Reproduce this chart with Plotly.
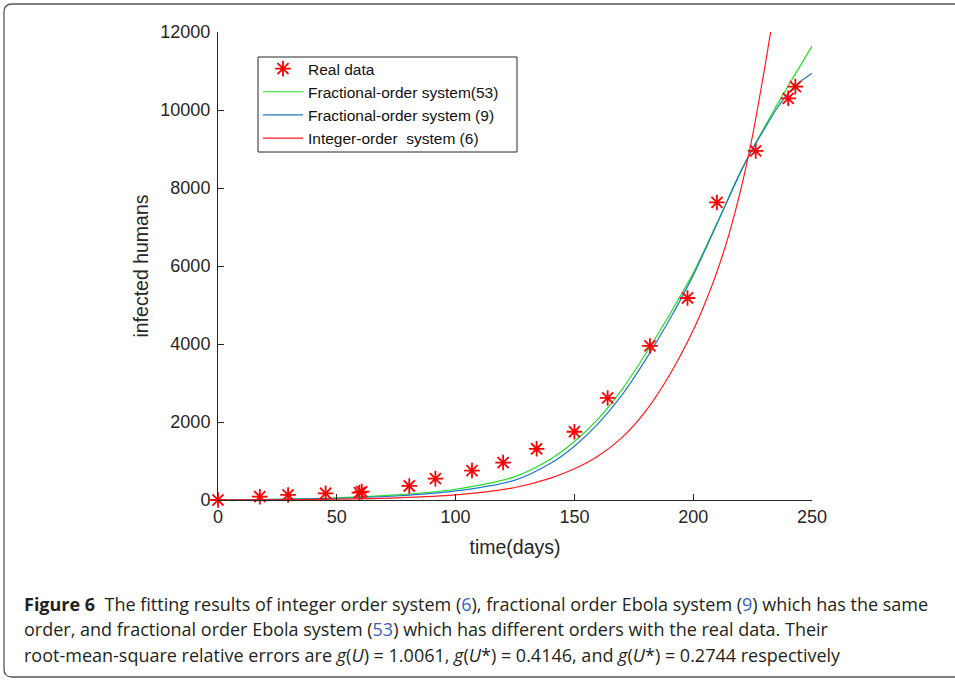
import plotly.graph_objects as go

# ---------------- data ----------------
real_days = [0, 17.6, 29.5, 45.3, 59.5, 60.5, 80.5, 91.5, 106.9, 120, 134.1, 150, 164, 181.8, 197.6, 210, 226.3, 240, 243]
real_cases = [0, 85, 129, 172, 190, 215, 360, 548, 755, 960, 1313, 1750, 2617, 3950, 5180, 7630, 8950, 10300, 10600]

frac53_days = [0, 25, 50, 75, 100, 125, 140, 150, 160, 170, 180, 190, 200, 210, 220, 225, 230, 235, 240, 245, 250]
frac53_cases = [0, 18, 55, 129, 275, 600, 1050, 1500, 2080, 2830, 3750, 4750, 5820, 7100, 8420, 9010, 9560, 10100, 10620, 11130, 11640]

frac9_days = [0, 25, 50, 75, 100, 125, 140, 150, 160, 170, 180, 190, 200, 210, 220, 225, 230, 235, 240, 245, 250]
frac9_cases = [0, 14, 45, 103, 232, 510, 940, 1380, 1960, 2690, 3600, 4620, 5760, 7080, 8420, 9000, 9520, 10020, 10430, 10720, 10940]

int6_days = [0, 25, 50, 75, 100, 125, 140, 150, 160, 170, 180, 190, 200, 205, 210, 215, 220, 225, 230, 233]
int6_cases = [0, 5, 20, 55, 130, 320, 560, 800, 1130, 1600, 2280, 3200, 4350, 5050, 5850, 6800, 7950, 9350, 11050, 12150]

x_ticks = [0, 50, 100, 150, 200, 250]
y_ticks = [0, 2000, 4000, 6000, 8000, 10000, 12000]

# ---------------- geometry helpers ----------------
W, H = 955, 681
L, R, T, B = 218, 812, 32, 500  # plot area in pixels

def px(xp):
    return (xp - L) / (R - L)

def py(yp):
    return (B - yp) / (B - T)

TXT = "#262626"
AX_FONT = "Liberation Sans, Arial, Helvetica, sans-serif"

fig = go.Figure()

fig.add_trace(go.Scatter(x=frac53_days, y=frac53_cases, mode="lines", name="Fractional-order system(53)",
                         line=dict(color="#22e022", width=1.2, shape="spline", smoothing=0.8), legendrank=2))
fig.add_trace(go.Scatter(x=frac9_days, y=frac9_cases, mode="lines", name="Fractional-order system (9)",
                         line=dict(color="#1f78c8", width=1.2, shape="spline", smoothing=0.8), legendrank=3))
fig.add_trace(go.Scatter(x=int6_days, y=int6_cases, mode="lines", name="Integer-order  system (6)",
                         line=dict(color="#ff1a1a", width=1.2, shape="spline", smoothing=0.8), legendrank=4))
fig.add_trace(go.Scatter(x=real_days, y=real_cases, mode="markers", name="Real data", cliponaxis=False,
                         marker=dict(symbol="asterisk-open", size=13, color="#ff0000",
                                     line=dict(color="#ff0000", width=1.8)), legendrank=1))

fig.update_layout(
    width=W, height=H,
    margin=dict(l=L, r=W - R, t=T, b=H - B),
    paper_bgcolor="white", plot_bgcolor="white",
    font=dict(family=AX_FONT, color=TXT),
    showlegend=True,
    legend=dict(x=px(258), y=py(52), xanchor="left", yanchor="top",
                bgcolor="rgba(0,0,0,0)", borderwidth=0,
                font=dict(size=15.5, color="#111111", family=AX_FONT),
                tracegroupgap=0, itemwidth=40),
    xaxis=dict(range=[0, 250], tickvals=x_ticks, ticktext=[str(v) for v in x_ticks],
               showgrid=False, zeroline=False, showline=True, linecolor=TXT, linewidth=1,
               ticks="inside", ticklen=6, tickcolor=TXT, tickfont=dict(size=18, color=TXT),
               title=dict(text="time(days)", font=dict(size=19.5, color=TXT), standoff=14)),
    yaxis=dict(range=[0, 12000], tickvals=y_ticks, ticktext=[str(v) for v in y_ticks],
               showgrid=False, zeroline=False, showline=True, linecolor=TXT, linewidth=1,
               ticks="inside", ticklen=6, tickcolor=TXT, tickfont=dict(size=18, color=TXT),
               ticklabelstandoff=3,
               title=dict(text="infected humans", font=dict(size=19.5, color=TXT), standoff=6)),
)

# legend box (drawn separately so entries sit where the reference has them)
fig.add_shape(type="rect", xref="paper", yref="paper",
              x0=px(258), x1=px(517), y0=py(152), y1=py(57),
              line=dict(color=TXT, width=1), fillcolor="white", layer="below")

# outer rounded frame of the figure card
r = 8
path = (f"M {px(975)},{py(4)} L {px(4 + r)},{py(4)} Q {px(4)},{py(4)} {px(4)},{py(4 + r)} "
        f"L {px(4)},{py(677 - r)} Q {px(4)},{py(677)} {px(4 + r)},{py(677)} L {px(975)},{py(677)}")
fig.add_shape(type="path", path=path, xref="paper", yref="paper",
              line=dict(color="#555555", width=1.3), layer="above")

# caption
CAP_FONT = "Liberation Sans Narrow, Open Sans, sans-serif"
CAP_COL = "#231f20"
LINK = "#3b5fc0"
cap_lines = [
    ("<b>Figure 6</b>  The fitting results of integer order system (<span style='color:%s'>6</span>), "
     "fractional order Ebola system (<span style='color:%s'>9</span>) which has the same" % (LINK, LINK), 604),
    ("order, and fractional order Ebola system (<span style='color:%s'>53</span>) which has different "
     "orders with the real data. Their" % LINK, 629),
    ("root-mean-square relative errors are <i>g</i>(<i>U</i>) = 1.0061, <i>g</i>(<i>U</i>*) = 0.4146, "
     "and <i>g</i>(<i>U</i>*) = 0.2744 respectively", 655),
]
for text, yp in cap_lines:
    fig.add_annotation(text=text, xref="paper", yref="paper", x=px(22), y=py(yp),
                       xanchor="left", yanchor="middle", showarrow=False,
                       font=dict(family=CAP_FONT, size=18, color=CAP_COL))

fig.write_html("out.html")
